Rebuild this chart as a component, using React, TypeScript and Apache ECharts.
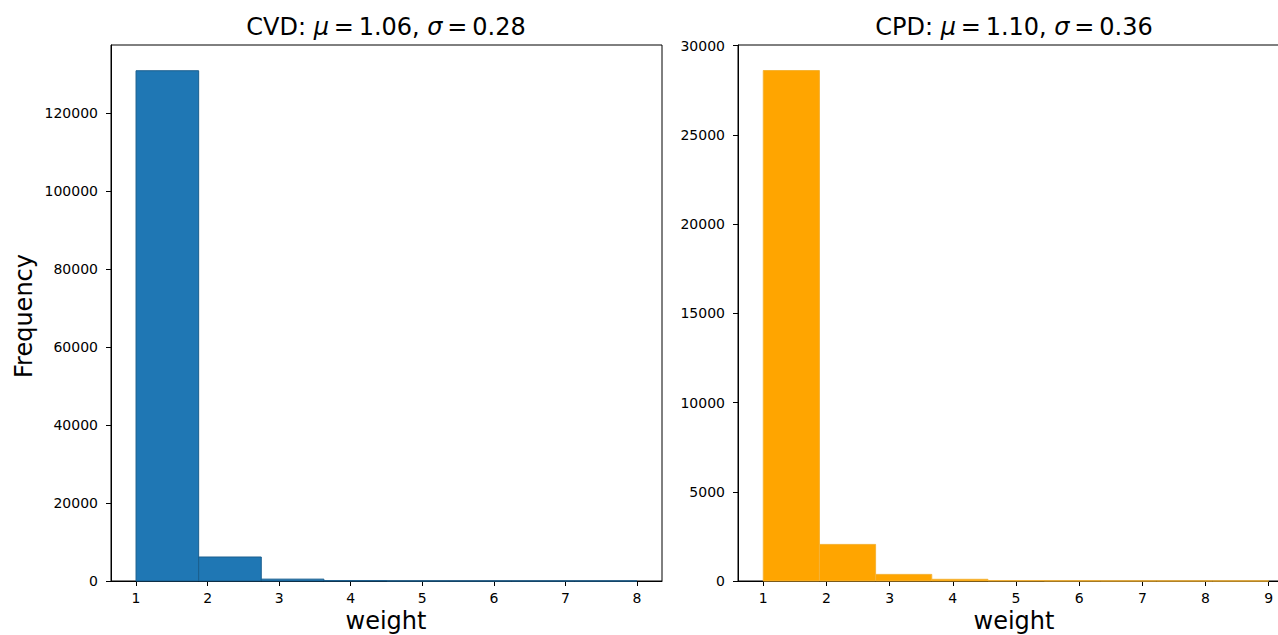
import React, { useEffect, useRef } from "react";
import * as echarts from "echarts";

// ---- data ----
const cvdBinStart = 1;
const cvdBinEnd = 8;
const cvdCounts = [130800, 6150, 480, 90, 20, 8, 3, 2];
const cpdBinStart = 1;
const cpdBinEnd = 9;
const cpdCounts = [28600, 2050, 370, 95, 20, 8, 4, 2, 1];
const cvdXTicks = [1, 2, 3, 4, 5, 6, 7, 8];
const cpdXTicks = [1, 2, 3, 4, 5, 6, 7, 8, 9];
const cvdYTicks = [0, 20000, 40000, 60000, 80000, 100000, 120000];
const cpdYTicks = [0, 5000, 10000, 15000, 20000, 25000, 30000];
const cvdTitle = { name: "CVD", mu: "1.06", sigma: "0.28" };
const cpdTitle = { name: "CPD", mu: "1.10", sigma: "0.36" };

function bins(start: number, end: number, counts: number[]) {
  const w = (end - start) / counts.length;
  return counts.map((c, i) => [start + i * w, start + (i + 1) * w, c]);
}

const FONT = "DejaVu Sans";

function histSeries(idx: number, data: number[][], fill: string, stroke: string) {
  return {
    type: "custom",
    xAxisIndex: idx,
    yAxisIndex: idx,
    data,
    encode: { x: [0, 1], y: 2 },
    renderItem: (_p: any, api: any) => {
      const x0 = api.value(0);
      const x1 = api.value(1);
      const y = api.value(2);
      const a = api.coord([x0, y]);
      const b = api.coord([x1, 0]);
      return {
        type: "rect",
        shape: { x: a[0], y: a[1], width: b[0] - a[0], height: b[1] - a[1] },
        style: { fill, stroke, lineWidth: 1 },
      };
    },
  };
}

const plain = (v: number) => String(v);

function xAxis(idx: number, min: number, max: number, ticks: number[]) {
  return {
    type: "value",
    gridIndex: idx,
    min,
    max,
    splitLine: { show: false },
    axisLine: { show: true, onZero: false, lineStyle: { color: "#000", width: 1 } },
    axisTick: { show: true, length: 5, customValues: ticks, lineStyle: { color: "#000" } },
    axisLabel: { customValues: ticks, formatter: plain, color: "#000", fontSize: 14, fontFamily: FONT, margin: 10 },
  };
}

function yAxis(idx: number, max: number, ticks: number[]) {
  return {
    type: "value",
    gridIndex: idx,
    min: 0,
    max,
    splitLine: { show: false },
    axisLine: { show: true, onZero: false, lineStyle: { color: "#000", width: 1 } },
    axisTick: { show: true, length: 5, customValues: ticks, lineStyle: { color: "#000" } },
    axisLabel: { customValues: ticks, formatter: plain, color: "#000", fontSize: 14, fontFamily: FONT, margin: 13 },
  };
}

const SP = "\u2009";
function titleText(t: { name: string; mu: string; sigma: string }) {
  return `{n|${t.name}: }{i|μ}{n|${SP}=${SP}${t.mu}, }{i|σ}{n|${SP}=${SP}${t.sigma}}`;
}

const rich = {
  n: { fontSize: 24, fontFamily: FONT, fill: "#000", color: "#000" },
  i: { fontSize: 24, fontFamily: FONT, fontStyle: "italic", fill: "#000", color: "#000" },
};

export default function App() {
  const ref = useRef<HTMLDivElement>(null);
  useEffect(() => {
    if (!ref.current) return;
    const chart = echarts.init(ref.current, null, { renderer: "svg" });
    const option: any = {
      animation: false,
      backgroundColor: "#fff",
      grid: [
        { left: 111, top: 45, width: 551, height: 536, show: true, borderColor: "#000", borderWidth: 1, backgroundColor: "transparent" },
        { left: 738, top: 45, width: 556, height: 536, show: true, borderColor: "#000", borderWidth: 1, backgroundColor: "transparent" },
      ],
      xAxis: [xAxis(0, 0.65, 8.35, cvdXTicks), xAxis(1, 0.6, 9.4, cpdXTicks)],
      yAxis: [yAxis(0, 137400, cvdYTicks), yAxis(1, 30030, cpdYTicks)],
      series: [
        histSeries(0, bins(cvdBinStart, cvdBinEnd, cvdCounts), "#1f77b4", "#1a5e8e"),
        histSeries(1, bins(cpdBinStart, cpdBinEnd, cpdCounts), "#ffa500", "#f5b335"),
      ],
      graphic: [
        { type: "text", x: 386, y: 27, style: { text: titleText(cvdTitle), rich, align: "center", verticalAlign: "middle" } },
        { type: "text", x: 1014, y: 27, style: { text: titleText(cpdTitle), rich, align: "center", verticalAlign: "middle" } },
        { type: "text", x: 24, y: 316, rotation: Math.PI / 2, style: { text: "Frequency", font: `24px "${FONT}"`, fill: "#000", align: "center", verticalAlign: "middle" } },
        { type: "text", x: 386, y: 621, style: { text: "weight", font: `24px "${FONT}"`, fill: "#000", align: "center", verticalAlign: "middle" } },
        { type: "text", x: 1014, y: 621, style: { text: "weight", font: `24px "${FONT}"`, fill: "#000", align: "center", verticalAlign: "middle" } },
      ],
    };
    chart.setOption(option);
    return () => chart.dispose();
  }, []);
  return (
    <div style={{ position: "fixed", left: 0, top: 0, width: 1278, height: 635, overflow: "hidden", background: "#fff" }}>
      <div ref={ref} style={{ width: 1330, height: 635 }} />
    </div>
  );
}
